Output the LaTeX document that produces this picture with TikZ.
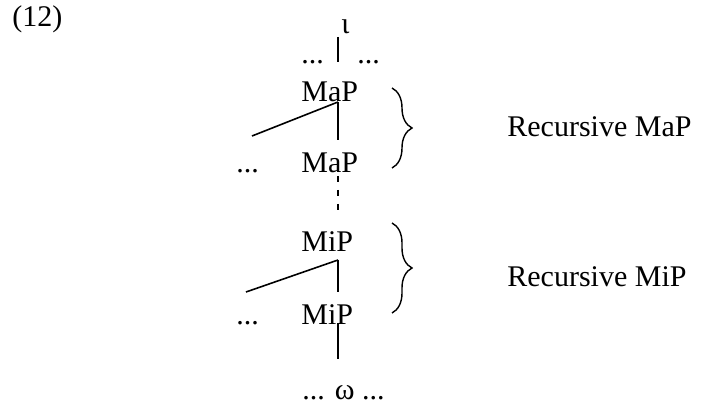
\documentclass[tikz,border=0pt]{standalone}
\usepackage{fontspec}
\setmainfont{Liberation Serif}
\usetikzlibrary{decorations.pathreplacing}
\tikzset{
word/.style={inner sep=0pt, anchor=base west, font=\fontsize{15}{18}\selectfont},
branch/.style={line width=0.8pt},
gap/.style={line width=0.8pt, dash pattern=on 3pt off 4pt},
curly/.style={line width=0.7pt, decorate, decoration={brace, amplitude=10pt}}
}
\begin{document}
\begin{tikzpicture}[x=0.5pt, y=-0.5pt]
\useasboundingbox (0,0) rectangle (702,406);
% the labels
\node[word] (num) at (12,27) {(12)};
\node[word] (iota) at (341,34) {ι};
\node[word] (dotsL) at (301,64) {...};
\node[word] (dotsR) at (357,64) {...};
\node[word] (map1) at (301,102) {MaP};
\node[word] (dotsA) at (236,173) {...};
\node[word] (map2) at (301,173) {MaP};
\node[word] (mip1) at (301,252) {MiP};
\node[word] (dotsB) at (236,325) {...};
\node[word] (mip2) at (301,325) {MiP};
\node[word] (omega) at (302,400) {... ω ...};
\node[word] (recmap) at (507,137) {Recursive MaP};
\node[word] (recmip) at (507,287) {Recursive MiP};
% the branch points
\coordinate (i0) at (338,37);
\coordinate (i1) at (338,62);
\coordinate (a0) at (338,102);
\coordinate (a1) at (338,140);
\coordinate (aL) at (252,136);
\coordinate (d0) at (338,176);
\coordinate (d1) at (338,213);
\coordinate (b0) at (338,260);
\coordinate (b1) at (338,292);
\coordinate (bL) at (246,292);
\coordinate (w0) at (338,323);
\coordinate (w1) at (338,359);
% the tree
\draw[branch] (i0) -- (i1);
\draw[branch] (a0) -- (a1);
\draw[branch] (a0) -- (aL);
\draw[gap] (d0) -- (d1);
\draw[branch] (b0) -- (b1);
\draw[branch] (b0) -- (bL);
\draw[branch] (w0) -- (w1);
% the braces
\coordinate (c0) at (392,88);
\coordinate (c1) at (392,168);
\coordinate (e0) at (392,223);
\coordinate (e1) at (392,313);
\draw[curly] (c0) -- (c1);
\draw[curly] (e0) -- (e1);
\end{tikzpicture}
\end{document}
